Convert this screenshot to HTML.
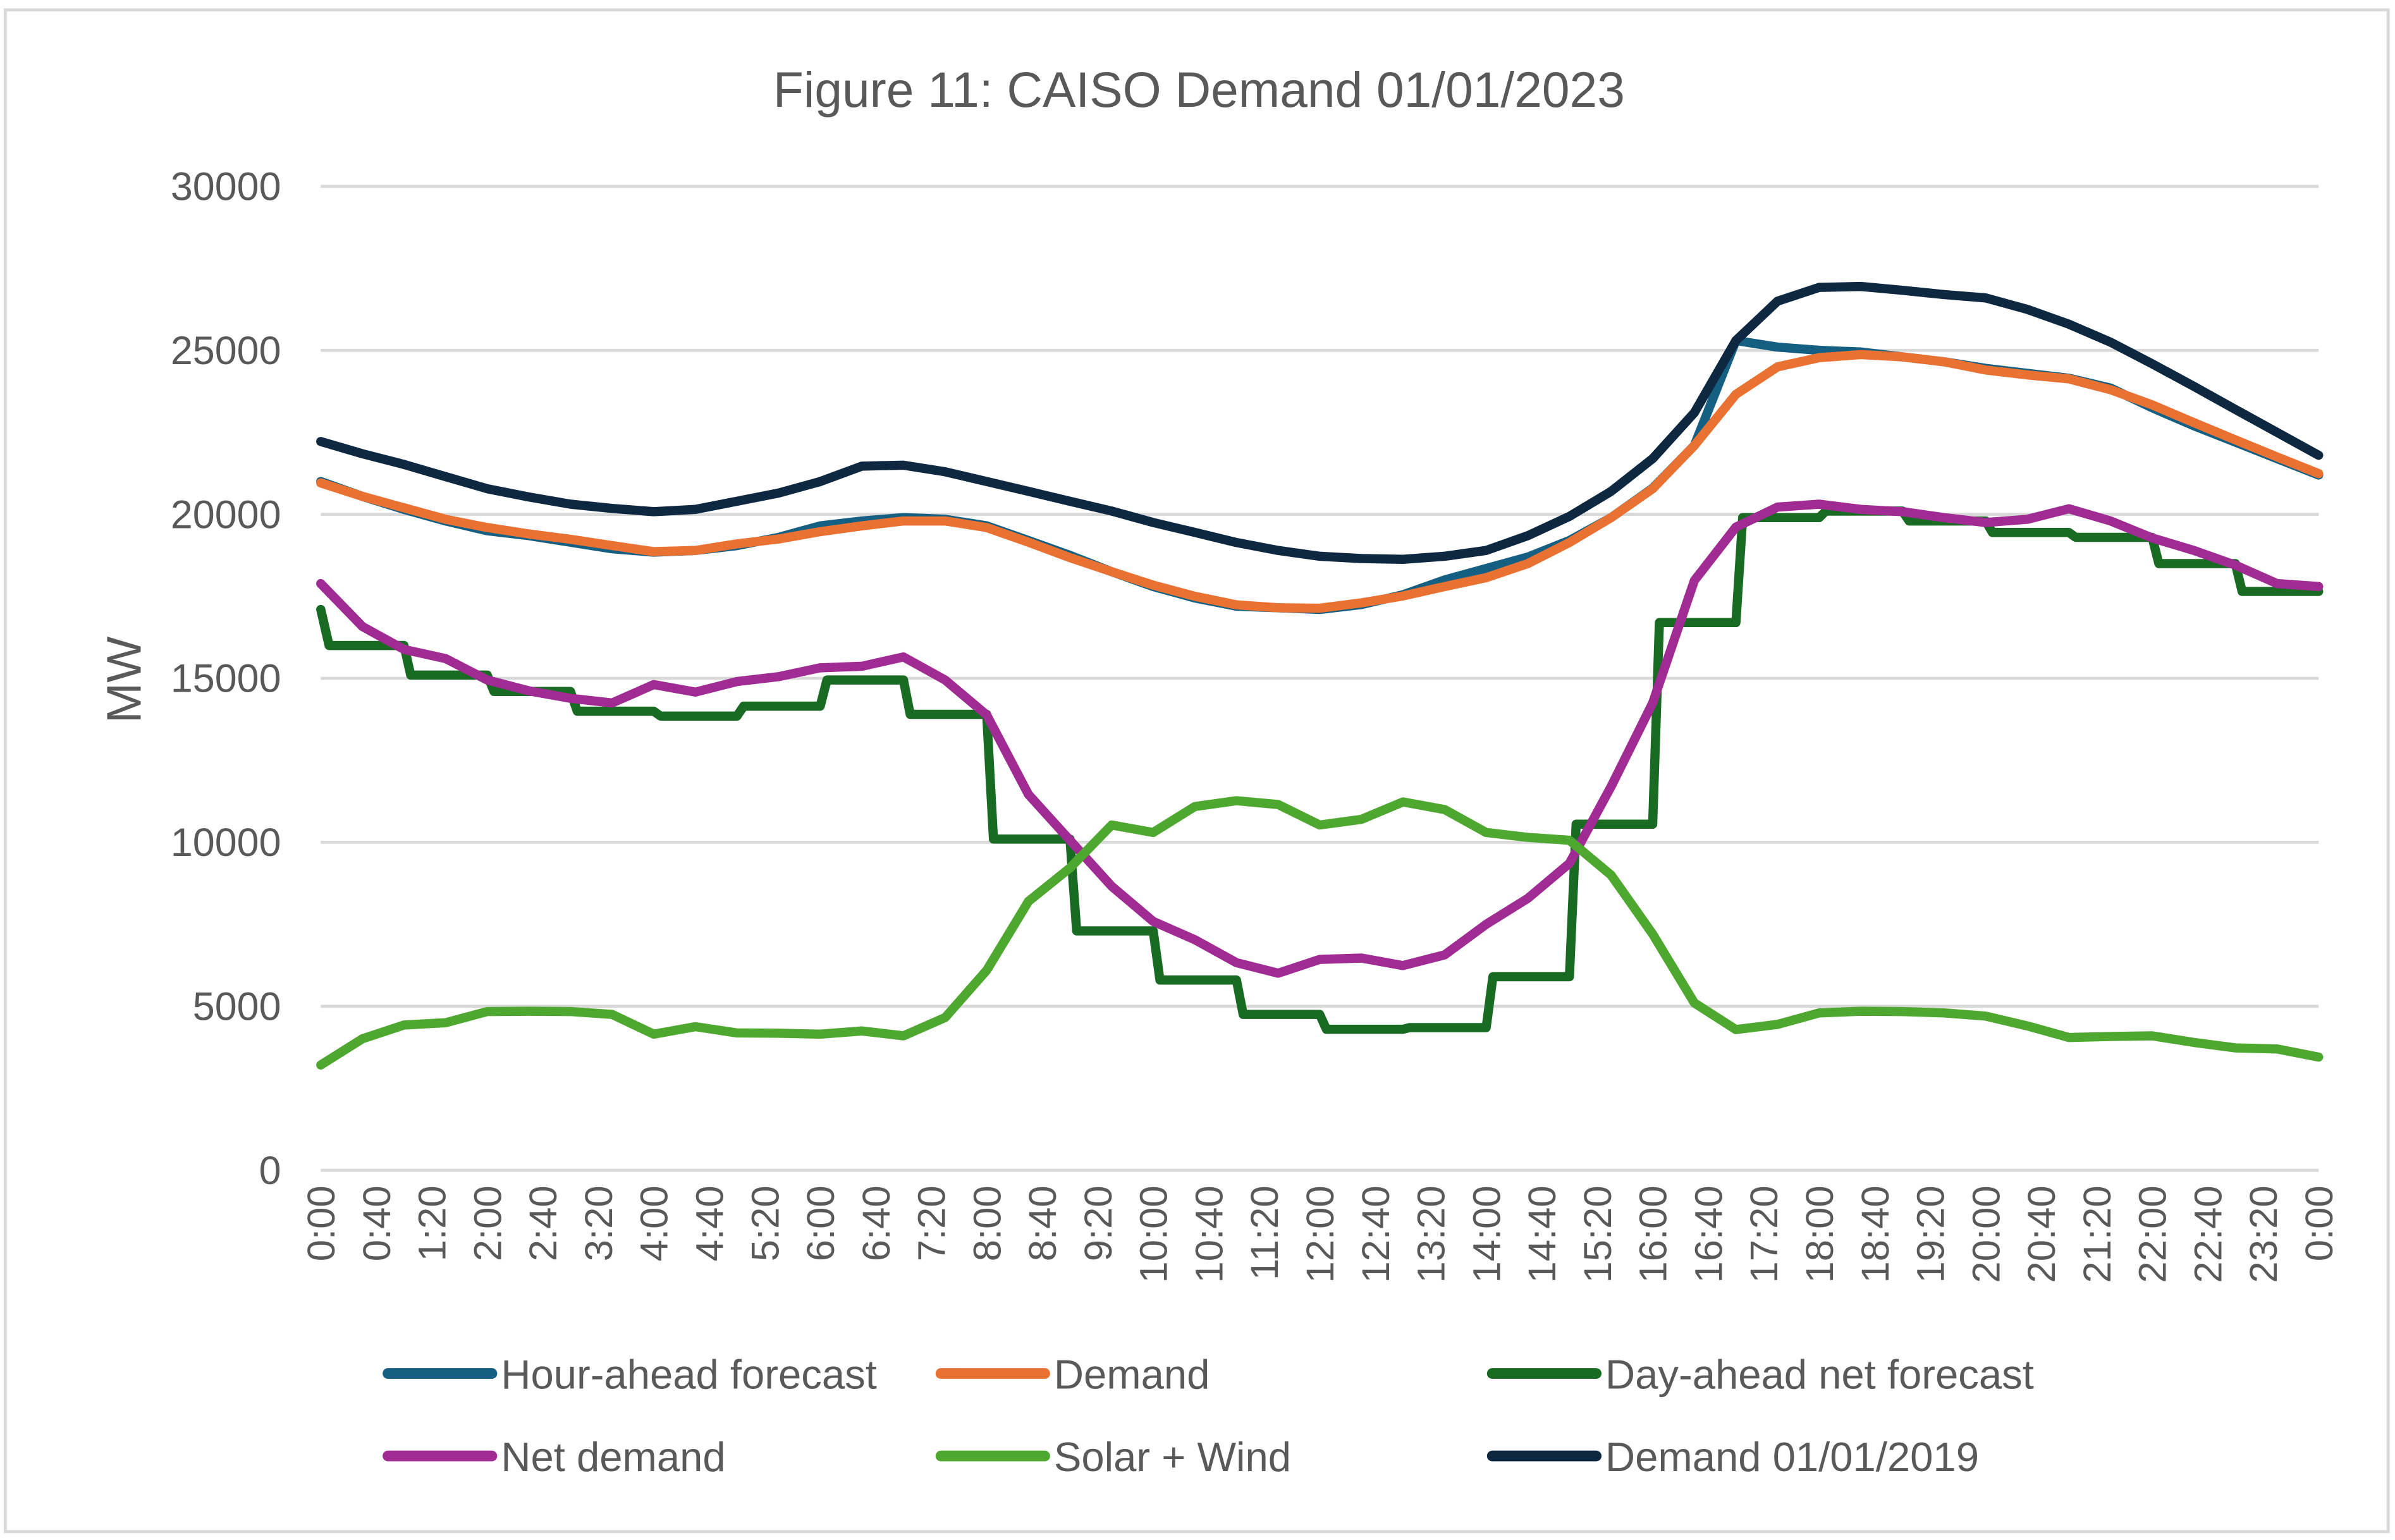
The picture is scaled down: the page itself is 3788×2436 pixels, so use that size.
<!DOCTYPE html>
<html><head><meta charset="utf-8"><style>
html,body{margin:0;padding:0;background:#fff;}
svg{display:block;font-family:"Liberation Sans",sans-serif;}
</style></head><body>
<svg id="chart" width="3788" height="2436" viewBox="0 0 1568 1008" preserveAspectRatio="none" xmlns="http://www.w3.org/2000/svg">
<rect x="0" y="0" width="1568" height="1008" fill="#fff"/>
<rect x="3.5" y="6.5" width="1560" height="996" fill="none" stroke="#d9d9d9" stroke-width="2"/>
<text x="785" y="70" text-anchor="middle" font-size="32.5" fill="#595959">Figure 11: CAISO Demand 01/01/2023</text>
<text transform="translate(92,445) rotate(-90)" text-anchor="middle" font-size="32" fill="#595959">MW</text>
<g id="grid"></g><g id="yticks"></g><g id="xticks"></g><g id="series"></g><g id="legend"></g>
</svg>
<script>
const yTicks=[0,5000,10000,15000,20000,25000,30000];
const xLabels=["0:00","0:40","1:20","2:00","2:40","3:20","4:00","4:40","5:20","6:00","6:40","7:20","8:00","8:40","9:20","10:00","10:40","11:20","12:00","12:40","13:20","14:00","14:40","15:20","16:00","16:40","17:20","18:00","18:40","19:20","20:00","20:40","21:20","22:00","22:40","23:20","0:00"];
// half-hourly values, 0:00 .. 24:00
const demand2019=[22220,21850,21520,21150,20780,20530,20310,20180,20080,20150,20400,20650,21000,21470,21500,21300,21000,20700,20400,20100,19750,19450,19140,18900,18720,18650,18630,18720,18900,19350,19940,20700,21700,23100,25300,26500,26920,26950,26830,26700,26600,26250,25800,25250,24590,23900,23200,22500,21800];
const hourAhead=[21000,20550,20150,19800,19500,19350,19150,18950,18850,18900,19050,19300,19650,19800,19900,19850,19650,19200,18750,18250,17800,17450,17200,17150,17100,17250,17550,18000,18350,18700,19200,19900,20800,22100,25300,25100,25000,24950,24800,24650,24450,24300,24150,23850,23250,22700,22200,21700,21200];
const demand=[20960,20550,20200,19850,19600,19400,19240,19050,18860,18900,19100,19250,19470,19650,19800,19800,19600,19150,18680,18250,17840,17500,17240,17150,17140,17300,17510,17800,18070,18500,19140,19900,20780,22100,23660,24500,24780,24870,24800,24650,24400,24250,24130,23800,23340,22800,22270,21750,21240];
const netDemand=[17890,16580,15880,15600,14950,14620,14390,14250,14810,14580,14900,15050,15320,15370,15650,14950,13880,11460,10060,8660,7590,7030,6330,6010,6430,6470,6240,6570,7500,8290,9360,11700,14250,17980,19610,20220,20310,20150,20080,19900,19750,19850,20170,19800,19280,18900,18450,17890,17800];
const solarWind=[3210,4010,4430,4500,4840,4850,4840,4750,4150,4380,4190,4180,4150,4250,4100,4660,6100,8200,9220,10530,10300,11090,11270,11150,10530,10700,11230,11000,10300,10150,10060,9000,7200,5100,4290,4450,4800,4850,4840,4800,4700,4400,4050,4080,4100,3900,3730,3700,3450];
// hourly steps 0..23
const dayAheadNet=[16000,15100,14600,14000,13850,14150,14950,13900,10100,7300,5800,4750,4300,4350,5900,10550,16700,19900,20100,19800,19450,19300,18500,17650];
const dayAheadStart=17100;

const X0=210,X1=1518,Y0=766,Y1=122;
const xs=h=>X0+(X1-X0)*h/24;
const ys=v=>Y0-(Y0-Y1)*v/30000;
const NS="http://www.w3.org/2000/svg";
function mk(tag,attrs,parent){const e=document.createElementNS(NS,tag);for(const k in attrs)e.setAttribute(k,attrs[k]);parent.appendChild(e);return e;}
const grid=document.getElementById('grid'),yt=document.getElementById('yticks'),xt=document.getElementById('xticks'),ser=document.getElementById('series'),leg=document.getElementById('legend');
yTicks.forEach(v=>{
  const l=mk('line',{x1:X0,x2:X1,y1:ys(v),y2:ys(v),stroke:'#d9d9d9','stroke-width':2},grid);
  
  
  const t=mk('text',{x:184,y:ys(v)+9,'text-anchor':'end','font-size':26,fill:'#595959'},yt);
  t.textContent=v;
  
  
});
xLabels.forEach((s,i)=>{
  const x=xs(i*24/(xLabels.length-1));
  const t=mk('text',{transform:`translate(${x+9},776) rotate(-90)`,'text-anchor':'end','font-size':25.5,fill:'#595959'},xt);
  t.textContent=s;
  
  
});
function line(arr,color,name){
  const n=arr.length-1;
  const d=arr.map((v,i)=>(i?'L':'M')+xs(i*24/n).toFixed(1)+','+ys(v).toFixed(1)).join(' ');
  const p=mk('path',{d,fill:'none',stroke:color,'stroke-width':6,'stroke-linejoin':'round','stroke-linecap':'round'},ser);
  
  
}
line(hourAhead,'#156082','series-hour-ahead-forecast');
line(demand,'#E97132','series-demand');
(function(){
  let d='M'+xs(0)+','+ys(dayAheadStart)+' L'+xs(0.1)+','+ys(dayAheadNet[0]);
  dayAheadNet.forEach((v,i)=>{
    if(i>0)d+=' L'+xs(i+0.08).toFixed(1)+','+ys(v).toFixed(1);
    d+=' L'+xs(i+1).toFixed(1)+','+ys(v).toFixed(1);
  });
  const p=mk('path',{d,fill:'none',stroke:'#196B24','stroke-width':6,'stroke-linejoin':'round','stroke-linecap':'round'},ser);
  
  
})();
line(netDemand,'#A02B93','series-net-demand');
line(solarWind,'#4EA72E','series-solar-wind');
line(demand2019,'#0E2841','series-demand-2019');
const legendItems=[["Hour-ahead forecast","#156082",250,899],["Demand","#E97132",612,899],["Day-ahead net forecast","#196B24",973,899],["Net demand","#A02B93",250,953],["Solar + Wind","#4EA72E",612,953],["Demand 01/01/2019","#0E2841",973,953]];
legendItems.forEach(([label,c,x,y])=>{
  const g=mk('g',{},leg);
  
  
  mk('line',{x1:x+4,x2:x+72,y1:y,y2:y,stroke:c,'stroke-width':7,'stroke-linecap':'round'},g);
  const t=mk('text',{x:x+78,y:y+10,'font-size':27,fill:'#595959'},g);
  t.textContent=label;
});
</script>
</body></html>
